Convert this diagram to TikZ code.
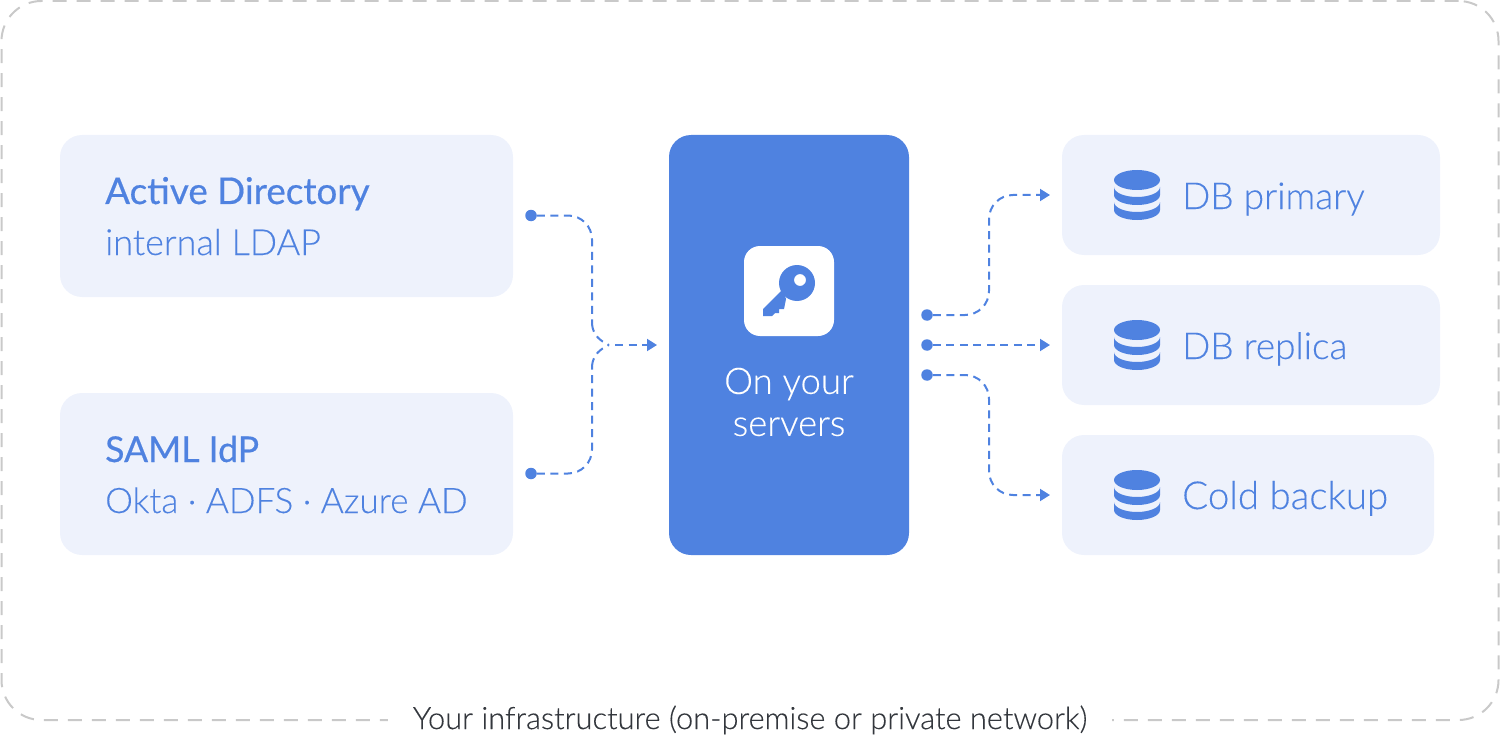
\documentclass[tikz,border=0pt]{standalone}
\usepackage{fontspec}
\setmainfont{Lato Light}[FakeBold=0.2]
\newfontfamily\boldfont{Lato}[FakeBold=0.5]
\usepackage{tikz}
\usetikzlibrary{arrows.meta}
\definecolor{brand}{HTML}{4F82E0}
\definecolor{pale}{HTML}{EEF2FC}
\definecolor{framegray}{HTML}{C9C9C9}
\definecolor{captiongray}{HTML}{33373D}

\tikzset{
  panel/.style = {fill=pale, rounded corners=22pt, inner sep=0pt},
  title/.style = {anchor=base west, inner sep=0pt, text=brand, font=\fontsize{#1}{37}\boldfont},
  body/.style = {anchor=base west, inner sep=0pt, text=brand, font=\fontsize{#1}{36}\selectfont},
  port/.style = {circle, fill=brand, inner sep=0pt, minimum size=11.5pt},
  link/.style = {draw=brand, line width=2pt, dash pattern=on 8pt off 5.5pt, rounded corners=24pt},
  arrowed/.style = {-{Triangle[length=10pt,width=12pt]}},
  dbicon/.pic = {
    \fill[brand] (0,-15) ellipse [x radius=23pt, y radius=10pt];
    \fill[brand] (-23,-8) arc [start angle=180, end angle=360, x radius=23pt, y radius=10pt]
      -- (23,0) arc [start angle=360, end angle=180, x radius=23pt, y radius=10pt] -- cycle;
    \fill[brand] (-23,7) arc [start angle=180, end angle=360, x radius=23pt, y radius=10pt]
      -- (23,15) arc [start angle=360, end angle=180, x radius=23pt, y radius=10pt] -- cycle;
  }
}

\begin{document}
\begin{tikzpicture}[x=1pt,y=-1pt]
   \useasboundingbox (0,0) rectangle (1500,741);
   % outer frame
   \node[draw=framegray, line width=2pt, dash pattern=on 14pt off 10pt, rounded corners=40pt,
         inner sep=0pt, minimum width=1497pt, minimum height=719pt] (frame) at (750,360.5) {};
   \node[fill=white, text=captiongray, inner sep=0pt, minimum width=724pt, minimum height=30pt,
         font=\fontsize{30.8}{31}\selectfont] (caption) at (750,720) {Your infrastructure (on-premise or private network)};
   % sources
   \node[panel, minimum width=453pt, minimum height=162pt] (ad) at (286.5,216) {};
   \node[panel, minimum width=453pt, minimum height=162pt] (saml) at (286.5,474) {};
   \node[title=36.8] (adtitle) at (105,204) {Active Directory};
   \node[body=36] (adbody) at (105,255) {internal LDAP};
   \node[title=35.6] (samltitle) at (105,462) {SAML IdP};
   \node[body=35.1] (samlbody) at (105,513) {Okta · ADFS · Azure AD};
   % server
   \node[fill=brand, rounded corners=22pt, inner sep=0pt, minimum width=240pt, minimum height=420pt] (server) at (789,345) {};
   \node[fill=white, rounded corners=16pt, inner sep=0pt, minimum size=90pt] (keybox) at (789,291) {};
   \fill[brand, even odd rule] (797,283) circle [radius=18pt] (800,280) circle [radius=6pt];
   \fill[brand] (783,289) -- (763,309) -- (763,316) -- (772,316) -- (775,313) -- (779,313) -- (779,309) -- (784,309) -- (786,299) -- cycle;
   \node[text=white, align=center, inner sep=0pt, font=\fontsize{36.5}{42}\selectfont] (serverlabel) at (789,402) {On your\\servers};
   % databases
   \node[panel, minimum width=378pt, minimum height=120pt] (primary) at (1251,195) {};
   \node[panel, minimum width=378pt, minimum height=120pt] (replica) at (1251,345) {};
   \node[panel, minimum width=372pt, minimum height=120pt] (backup) at (1248,495) {};
   \pic at (1137,195) {dbicon};
   \pic at (1137,345) {dbicon};
   \pic at (1137,495) {dbicon};
   \node[body=37] (primarylabel) at (1182,209) {DB primary};
   \node[body=37] (replicalabel) at (1182,359) {DB replica};
   \node[body=38.5] (backuplabel) at (1182,509) {Cold backup};
   % ports
   \node[port] (adport) at (531,215.5) {};
   \node[port] (samlport) at (531,473.5) {};
   \node[port] (out1) at (927,315) {};
   \node[port] (out2) at (927,345) {};
   \node[port] (out3) at (927,375) {};
   \coordinate (bustop) at (592,324);
   \coordinate (busbottom) at (592,366);
   \coordinate (joinleft) at (609,345);
   \coordinate (startleft) at (615,345);
   \coordinate (inleft) at (657,345);
   \coordinate (busright) at (989,345);
   \coordinate (inprimary) at (1050,195);
   \coordinate (inreplica) at (1050,345);
   \coordinate (inbackup) at (1050,495);
   % connectors
   \draw[link] (adport) -| (bustop);
   \draw[link] (samlport) -| (busbottom);
   \draw[link, sharp corners] (bustop) .. controls (593,335) and (600,341) .. (joinleft);
   \draw[link, sharp corners] (busbottom) .. controls (593,355) and (600,349) .. (joinleft);
   \draw[link, arrowed] (startleft) -- (inleft);
   \draw[link, arrowed] (out1) -| (busright |- inprimary) -- (inprimary);
   \draw[link, arrowed] (out2) -- (inreplica);
   \draw[link, arrowed] (out3) -| (busright |- inbackup) -- (inbackup);
\end{tikzpicture}
\end{document}
